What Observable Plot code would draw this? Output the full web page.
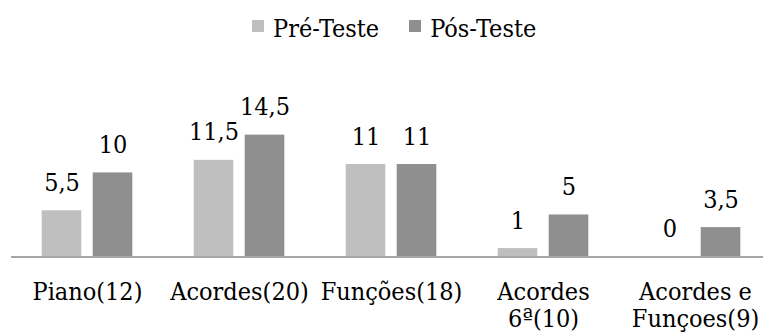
<!DOCTYPE html>
<html><head><meta charset="utf-8">
<script src="https://cdn.jsdelivr.net/npm/d3@7"></script>
<script src="https://cdn.jsdelivr.net/npm/@observablehq/plot@0.6"></script>
<style>
body{margin:0;background:#fff;font-family:"DejaVu Serif Condensed","DejaVu Serif",serif;font-stretch:condensed;}
#legend{position:relative;height:50px;width:763px;}
#legend .items{position:absolute;left:252px;top:15.5px;display:flex;align-items:flex-start;font-size:25px;line-height:25px;color:#000;}
.item{display:flex;align-items:flex-start;margin-right:30px;}
.sw{width:12px;height:12px;margin-top:4.5px;margin-right:9px;}
</style></head><body>
<div id="legend"><div class="items"></div></div>
<div id="chart"></div>
<script>
const categories = ["Piano(12)", "Acordes(20)", "Funções(18)", "Acordes\n6ª(10)", "Acordes e\nFunçoes(9)"];
const series = ["Pré-Teste", "Pós-Teste"];
const preTeste = [5.5, 11.5, 11, 1, 0];
const posTeste = [10, 14.5, 11, 5, 3.5];
const colors = ["#bfbfbf", "#8f8f8f"];

const values = [preTeste, posTeste];
const data = categories.flatMap((c, i) => series.map((s, k) => ({cat: c, s, v: values[k][i]})));
const offsets = [-25.5, 25.5];
const fmt = v => String(v).replace(".", ",");

// legend
const items = document.querySelector("#legend .items");
series.forEach((s, k) => {
  const it = document.createElement("div");
  it.className = "item";
  const sw = document.createElement("div");
  sw.className = "sw";
  sw.style.background = colors[k];
  const t = document.createElement("span");
  t.textContent = s;
  it.appendChild(sw); it.appendChild(t);
  items.appendChild(it);
});

const marks = [];
series.forEach((s, k) => {
  const sub = data.filter(d => d.s === s);
  marks.push(Plot.barY(sub, {x: "cat", y: "v", fill: colors[k], dx: offsets[k], insetLeft: 56.2, insetRight: 56.2}));
});
marks.push(Plot.ruleY([0], {stroke: "#a6a6a6", strokeWidth: 2}));
series.forEach((s, k) => {
  const sub = data.filter(d => d.s === s);
  marks.push(Plot.text(sub, {x: "cat", y: "v", text: d => fmt(d.v), dx: offsets[k], dy: -20, lineAnchor: "bottom", fontSize: 25, fill: "#000"}));
});
marks.push(Plot.axisX({tickSize: 0, tickPadding: 23.3, fontSize: 25, lineHeight: 1.1, label: null, fill: "#000"}));

const chart = Plot.plot({
  width: 763,
  height: 286,
  marginTop: 72,
  marginBottom: 79.5,
  marginLeft: 11,
  marginRight: 0,
  style: {fontFamily: "'DejaVu Serif Condensed', 'DejaVu Serif', serif", fontStretch: "condensed", fontSize: "25px", background: "white", color: "#000", overflow: "visible"},
  x: {domain: categories, range: [10.3, 772.3], padding: 0, label: null},
  y: {domain: [0, 16], axis: null},
  marks
});
document.getElementById("chart").appendChild(chart);
</script>
</body></html>
